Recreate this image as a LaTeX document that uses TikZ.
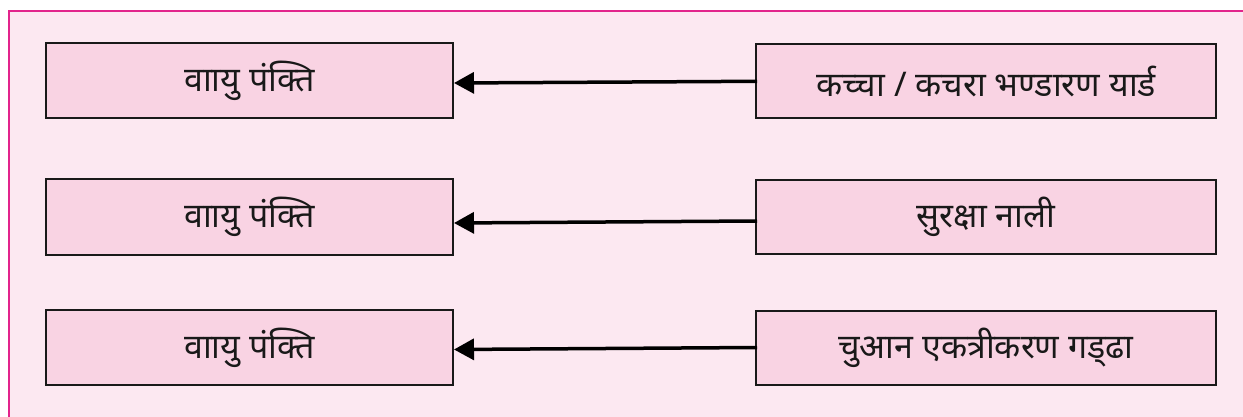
\documentclass[tikz,border=0pt]{standalone}
\usepackage{fontspec}
\newfontfamily\deva[Script=Devanagari]{Noto Sans}
\usetikzlibrary{arrows.meta}
\definecolor{panelfill}{HTML}{FCE8F1}
\definecolor{panelline}{HTML}{E2248C}
\definecolor{boxfill}{HTML}{F9D3E3}
\tikzset{
  box/.style={draw=black!90, line width=2pt, fill=boxfill, inner sep=0pt,
    font=\deva\fontsize{34}{39}\selectfont, text=black!90},
  leftbox/.style={box, minimum width=407pt, minimum height=75pt},
  rightbox/.style={box, minimum width=460pt, minimum height=74pt},
  link/.style={line width=3.5pt, -{Triangle[length=20pt,width=21pt]}}
}
\begin{document}
\begin{tikzpicture}[x=1pt, y=-1pt]
  \useasboundingbox (0,0) rectangle (1243,417);
  % panel: only its top and left edges lie inside the page
  \fill[panelfill] (9,11) rectangle (1243,417);
  \draw[panelline, line width=1.5pt] (9,417) -- (9,11) -- (1243,11);

  % left column
  \node[leftbox] (l1) at (249.5,80.5) {वाायु पंक्ति};
  \node[leftbox] (l2) at (249.5,217) {वाायु पंक्ति};
  \node[leftbox] (l3) at (249.5,347.5) {वाायु पंक्ति};

  % right column
  \node[rightbox] (r1) at (986,81.3) {कच्चा / कचरा भण्डारण यार्ड};
  \node[rightbox] (r2) at (986,217) {सुरक्षा नाली};
  \node[rightbox] (r3) at (986,347.5) {चुआन एकत्रीकरण गड्‌ढा};

  % connectors, right to left
  \draw[link] ([xshift=2pt]r1.west) -- ([yshift=-2.5pt]l1.east);
  \draw[link] ([xshift=2pt,yshift=-4pt]r2.west) -- ([yshift=-6pt]l2.east);
  \draw[link] ([xshift=2pt]r3.west) -- ([yshift=-2pt]l3.east);
\end{tikzpicture}
\end{document}
